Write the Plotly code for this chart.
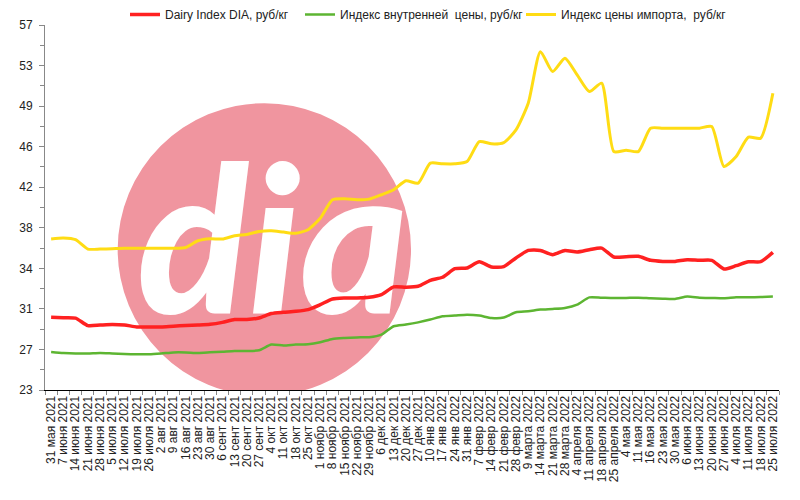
import plotly.graph_objects as go

dates = ["31 мая 2021", "7 июня 2021", "14 июня 2021", "21 июня 2021", "28 июня 2021",
         "5 июля 2021", "12 июля 2021", "19 июля 2021", "26 июля 2021", "2 авг 2021",
         "9 авг 2021", "16 авг 2021", "23 авг 2021", "30 авг 2021", "6 сент 2021",
         "13 сент 2021", "20 сент 2021", "27 сент 2021", "4 окт 2021", "11 окт 2021",
         "18 окт 2021", "25 окт 2021", "1 ноябр 2021", "8 ноябр 2021", "15 ноябр 2021",
         "22 ноябр 2021", "29 ноябр 2021", "6 дек 2021", "13 дек 2021", "20 дек 2021",
         "27 дек 2021", "10 янв 2022", "17 янв 2022", "24 янв 2022", "31 янв 2022",
         "7 февр 2022", "14 февр 2022", "21 февр 2022", "28 февр 2022", "9 марта 2022",
         "14 марта 2022", "21 марта 2022", "28 марта 2022", "4 апреля 2022", "11 апреля 2022",
         "18 апреля 2022", "25 апреля 2022", "4 мая 2022", "11 мая 2022", "16 мая 2022",
         "23 мая 2022", "30 мая 2022", "6 июня 2022", "13 июня 2022", "20 июня 2022",
         "27 июня 2022", "4 июля 2022", "11 июля 2022", "18 июля 2022", "25 июля 2022"]

dairy_index = [29.77, 29.74, 29.70, 29.00, 29.05, 29.10, 29.05, 28.88, 28.88, 28.88,
               28.95, 29.00, 29.05, 29.12, 29.30, 29.56, 29.56, 29.71, 30.12, 30.24,
               30.33, 30.49, 30.95, 31.48, 31.57, 31.57, 31.63, 31.88, 32.60, 32.58,
               32.66, 33.22, 33.50, 34.30, 34.37, 34.95, 34.46, 34.50, 35.30, 36.00,
               36.00, 35.60, 36.00, 35.85, 36.07, 36.22, 35.39, 35.42, 35.45, 35.08,
               34.98, 34.98, 35.14, 35.08, 35.08, 34.27, 34.58, 34.95, 34.95, 35.82]

domestic_index = [26.55, 26.45, 26.40, 26.40, 26.45, 26.40, 26.35, 26.33, 26.33, 26.40,
                  26.50, 26.50, 26.45, 26.51, 26.57, 26.64, 26.64, 26.70, 27.23, 27.14,
                  27.23, 27.26, 27.45, 27.76, 27.85, 27.90, 27.92, 28.16, 28.94, 29.10,
                  29.30, 29.56, 29.87, 29.93, 30.00, 29.93, 29.71, 29.75, 30.24, 30.33,
                  30.49, 30.55, 30.64, 30.95, 31.63, 31.60, 31.57, 31.58, 31.60, 31.54,
                  31.50, 31.48, 31.70, 31.60, 31.57, 31.54, 31.63, 31.63, 31.66, 31.70]

import_index = [37.07, 37.16, 37.00, 36.13, 36.13, 36.16, 36.20, 36.20, 36.20, 36.20,
                36.20, 36.28, 36.90, 37.09, 37.06, 37.37, 37.49, 37.77, 37.84, 37.71,
                37.60, 37.93, 39.00, 40.72, 40.81, 40.72, 40.78, 41.19, 41.65, 42.49,
                42.27, 44.13, 44.07, 44.07, 44.28, 46.14, 45.93, 46.05, 47.23, 49.71,
                54.52, 52.66, 53.90, 52.35, 50.80, 51.58, 45.21, 45.34, 45.21, 47.39,
                47.39, 47.39, 47.39, 47.39, 47.54, 43.82, 44.75, 46.55, 46.46, 50.64]

series_names = ["Dairy Index DIA, руб/кг",
                "Индекс внутренней\u00a0 цены, руб/кг",
                "Индекс цены импорта,\u00a0 руб/кг"]

y_tick_labels = ["23", "27", "31", "34", "38", "42", "46", "49", "53", "57"]
y_min, y_max = 23, 57

idx = list(range(len(dates)))
n_ticks = len(y_tick_labels)
y_tickvals = [y_min + k * (y_max - y_min) / (n_ticks - 1) for k in range(n_ticks)]
y_minor = [(a + b) / 2 for a, b in zip(y_tickvals[:-1], y_tickvals[1:])]

fig = go.Figure()

# watermark text (drawn first so lines go on top)
fig.add_trace(go.Scatter(
    x=[18.1], y=[34.95], mode="text", text=["dia"],
    textfont=dict(family="Lato", size=205, color="white", weight=900, style="italic"),
    hoverinfo="skip", showlegend=False))

fig.add_trace(go.Scatter(x=idx, y=dairy_index, mode="lines", name=series_names[0],
                         legend="legend",
                         line=dict(color="#FF2121", width=3.5, shape="spline", smoothing=0.6)))
fig.add_trace(go.Scatter(x=idx, y=domestic_index, mode="lines", name=series_names[1],
                         legend="legend2",
                         line=dict(color="#5DB532", width=2.5, shape="spline", smoothing=0.6)))
fig.add_trace(go.Scatter(x=idx, y=import_index, mode="lines", name=series_names[2],
                         legend="legend3",
                         line=dict(color="#FFDC14", width=3, shape="spline", smoothing=0.6)))

# pink circle of the logo
fig.add_shape(type="circle", xref="x", yref="y", layer="below",
              x0=5.44, x1=29.42, y0=22.46, y1=49.72,
              fillcolor="#F0959F", line=dict(width=0))

leg_common = dict(orientation="h", y=1.0, yref="container", yanchor="top", xanchor="left",
                  xref="container", font=dict(size=12), itemwidth=30,
                  bgcolor="rgba(0,0,0,0)")

fig.update_layout(
    width=800, height=500,
    margin=dict(l=45, r=21, t=25, b=110, autoexpand=False),
    paper_bgcolor="white", plot_bgcolor="white",
    font=dict(family="Liberation Sans, Arial, sans-serif", size=12, color="#222"),
    showlegend=True,
    legend=dict(x=125 / 800, **leg_common),
    legend2=dict(x=300 / 800, **leg_common),
    legend3=dict(x=521 / 800, **leg_common),
    xaxis=dict(range=[-0.5, len(dates) - 0.5], tickmode="array", tickvals=idx,
               ticktext=dates, tickangle=-90, ticks="", showgrid=False, zeroline=False,
               showline=True, linecolor="black", linewidth=1,
               tickfont=dict(size=12, color="#222"),
               minor=dict(tickmode="array", tickvals=[i - 0.5 for i in idx] + [len(dates) - 0.5],
                          ticks="outside", ticklen=4, tickcolor="#888", showgrid=False)),
    yaxis=dict(range=[y_min, y_max], tickmode="array", tickvals=y_tickvals,
               ticktext=y_tick_labels, ticks="outside", ticklen=5, tickcolor="#888",
               showgrid=False, zeroline=False, showline=True, linecolor="#888", linewidth=1,
               tickfont=dict(size=12, color="#222"), ticklabelstandoff=4,
               minor=dict(tickmode="array", tickvals=y_minor, ticks="outside", ticklen=4,
                          tickcolor="#888", showgrid=False)),
)

fig.write_html("out.html")
